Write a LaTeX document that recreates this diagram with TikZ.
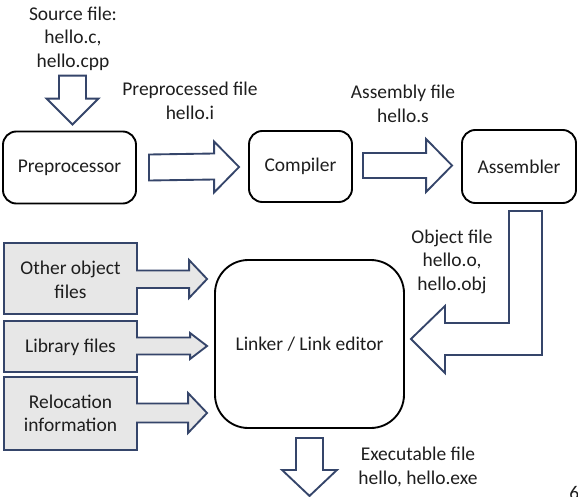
\documentclass[tikz,border=0pt]{standalone}
\usepackage{fontspec}
\setmainfont{Carlito}
\usetikzlibrary{calc}
\definecolor{navy}{HTML}{35456A}
\definecolor{boxgray}{HTML}{E7E7E7}
\definecolor{txt}{HTML}{1E1E1E}
\tikzset{
  stage/.style={draw=black, line width=1.4pt, rounded corners=10, align=center, text=txt, inner sep=0pt},
  lbl/.style={align=center, text=txt, inner sep=0pt},
  barrow/.style={draw=navy, line width=1.4pt, fill=white, line join=miter},
  callout/.style={draw=navy, line width=1.4pt, fill=boxgray, line join=miter},
  calltext/.style={align=center, text=txt, inner sep=0pt, minimum width=133, minimum height=20},
}
\begin{document}
\begin{tikzpicture}[x=0.75pt,y=-0.75pt, font=\fontsize{14.6}{17.6}\selectfont]
\useasboundingbox (0,0) rectangle (578,496);
\begin{scope}
\clip (0,0) rectangle (578,496);
% stage boxes
\node[stage, minimum width=133*0.75pt, minimum height=72*0.75pt] (pre) at (69.5,167.5) {Preprocessor};
\node[stage, minimum width=103*0.75pt, minimum height=71*0.75pt] (comp) at (300.5,166.5) {Compiler};
\node[stage, minimum width=114*0.75pt, minimum height=73*0.75pt] (asm) at (519,166.5) {Assembler};
\node[stage, rounded corners=25, minimum width=189*0.75pt, minimum height=168*0.75pt] (link) at (309.5,344) {Linker / Link editor};

% labels
\node[lbl] (src) at (73,38.5) {Source file:\\hello.c,\\hello.cpp};
\node[lbl] (ppf) at (190,101) {Preprocessed file\\hello.i};
\node[lbl] (asf) at (403,104) {Assembly file\\hello.s};
\node[lbl] (obf) at (452,261.5) {Object file\\hello.o,\\hello.obj};
\node[lbl] (exf) at (418,467) {Executable file\\hello, hello.exe};
\node[lbl, anchor=north west] (pg) at (569,486) {6};

% source -> preprocessor
\coordinate (t0) at ($(pre.north)+(3,-6)$);
\draw[barrow] ($(t0)+(-13.5,-49)$) -- ($(t0)+(13.5,-49)$) -- ($(t0)+(13.5,-26)$) -- ($(t0)+(26,-26)$)
  -- (t0) -- ($(t0)+(-26,-26)$) -- ($(t0)+(-13.5,-26)$) -- cycle;

% preprocessor -> compiler
\coordinate (s1) at ($(pre.east)+(12,0)$);
\coordinate (t1) at ($(comp.west)+(-9,0.5)$);
\draw[barrow] ($(s1)+(0,-13)$) -- ($(t1)+(-25,-13.5)$) -- ($(t1)+(-25,-25.5)$) -- (t1)
  -- ($(t1)+(-25,25.5)$) -- ($(t1)+(-25,12.5)$) -- ($(s1)+(0,13)$) -- cycle;

% compiler -> assembler
\coordinate (s2) at ($(comp.east)+(10,-1)$);
\coordinate (t2) at ($(asm.west)+(-9,-1)$);
\draw[barrow] ($(s2)+(0,-12.5)$) -- ($(t2)+(-26,-12.5)$) -- ($(t2)+(-26,-26.5)$) -- (t2)
  -- ($(t2)+(-26,26.5)$) -- ($(t2)+(-26,12.5)$) -- ($(s2)+(0,12.5)$) -- cycle;

% assembler -> linker (bent)
\coordinate (s3) at ($(asm.south)+(6.5,7)$);
\coordinate (t3) at ($(link.east)+(6,-5)$);
\draw[barrow] ($(s3)+(-16.5,0)$) -- ($(s3)+(16.5,0)$) |- ($(t3)+(34,16)$) -- ($(t3)+(34,34)$) -- (t3)
  -- ($(t3)+(34,-33)$) -- ($(t3)+(34,-16)$) -| ($(s3)+(-16.5,0)$) -- cycle;

% linker -> executable
\coordinate (t4) at ($(link.south)+(0,67)$);
\draw[barrow] ($(link.south)+(-13.5,9)$) -- ($(link.south)+(13.5,9)$) -- ($(t4)+(13.5,-26)$) -- ($(t4)+(27.5,-26)$)
  -- (t4) -- ($(t4)+(-27.5,-26)$) -- ($(t4)+(-13.5,-26)$) -- cycle;

% callouts
\coordinate (c1) at ($(link.west)+(-7,-65)$);
\draw[callout] (4,243) -- (137,243) -- (137,270.5) -- ($(c1)+(-18,-8.5)$) -- ($(c1)+(-18,-19)$) -- (c1)
  -- ($(c1)+(-18,19)$) -- ($(c1)+(-18,9)$) -- (137,288) -- (137,314) -- (4,314) -- cycle;
\node[calltext] (oth) at (70.5,280) {Other object\\files};

\coordinate (c2) at ($(link.west)+(-7,2)$);
\draw[callout] (4,321) -- (137,321) -- (137,337.5) -- ($(c2)+(-17,-8.5)$) -- ($(c2)+(-17,-13)$) -- (c2)
  -- ($(c2)+(-17,13)$) -- ($(c2)+(-17,8.5)$) -- (137,354.5) -- (137,372) -- (4,372) -- cycle;
\node[calltext] (lib) at (70.5,347) {Library files};

\coordinate (c3) at ($(link.west)+(-7,69)$);
\draw[callout] (4,377) -- (137,377) -- (137,403.5) -- ($(c3)+(-19,-9.5)$) -- ($(c3)+(-19,-20)$) -- (c3)
  -- ($(c3)+(-19,20)$) -- ($(c3)+(-19,9.5)$) -- (137,422.5) -- (137,450) -- (4,450) -- cycle;
\node[calltext] (rel) at (70.5,413.5) {Relocation\\information};
\end{scope}
\end{tikzpicture}
\end{document}
